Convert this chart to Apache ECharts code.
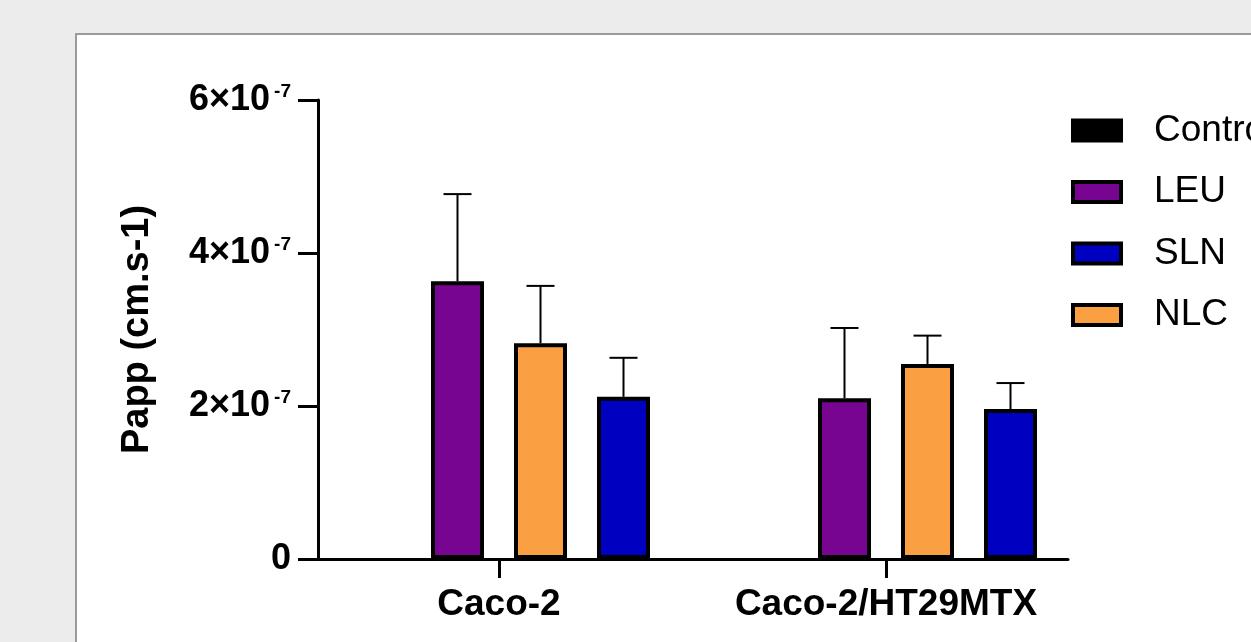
<!DOCTYPE html>
<html>
<head>
<meta charset="utf-8">
<script src="https://cdn.jsdelivr.net/npm/echarts@6/dist/echarts.min.js"></script>
<style>
  html, body { margin: 0; padding: 0; background: #ececec; }
  #panel { position: absolute; left: 75px; top: 33px; width: 1300px; height: 700px;
           background: #fff; border-top: 2px solid #9a9a9a; border-left: 2px solid #9a9a9a; }
  #chart { position: absolute; left: 0; top: 0; width: 1251px; height: 642px; }
</style>
</head>
<body>
<div id="panel"></div>
<div id="chart"></div>
<script>
const categories = ['Caco-2', 'Caco-2/HT29MTX'];
const legendOrder = ['Control', 'LEU', 'SLN', 'NLC'];

const controlMean = ['-', '-'];
const leuMean = [3.63e-7, 2.10e-7];
const leuSd = [1.14e-7, 0.92e-7];
const nlcMean = [2.82e-7, 2.55e-7];
const nlcSd = [0.75e-7, 0.37e-7];
const slnMean = [2.12e-7, 1.96e-7];
const slnSd = [0.51e-7, 0.34e-7];

const yTicks = [0, 2e-7, 4e-7, 6e-7];

const FONT = "'Liberation Sans', Arial, sans-serif";
const BAR_W = 53;
const GAP_PX = 30;
const slotOffset = (i) => (i - 1.5) * (BAR_W + GAP_PX);

const barSeries = (name, data, color) => ({
  name,
  type: 'bar',
  data,
  barWidth: BAR_W,
  barGap: (GAP_PX / BAR_W * 100).toFixed(1) + '%',
  itemStyle: { color, borderColor: '#000', borderWidth: 4 },
  z: 3,
});

const errorSeries = (name, mean, sd, slot) => ({
  name,
  type: 'custom',
  data: mean.map((m, i) => [i, m, sd[i]]),
  z: 2,
  renderItem: (params, api) => {
    const idx = api.value(0);
    const base = api.coord([idx, api.value(1)]);
    const top = api.coord([idx, api.value(1) + api.value(2)]);
    const cx = base[0] + slotOffset(slot);
    const style = { stroke: '#000', lineWidth: 2 };
    return {
      type: 'group',
      children: [
        { type: 'line', shape: { x1: cx, y1: base[1], x2: cx, y2: top[1] }, style },
        { type: 'line', shape: { x1: cx - 14, y1: top[1], x2: cx + 14, y2: top[1] }, style },
      ],
    };
  },
});

const yRange = {
  type: 'value',
  min: yTicks[0],
  max: yTicks[yTicks.length - 1],
  interval: yTicks[1] - yTicks[0],
};

const myChart = echarts.init(document.getElementById('chart'));
const option = {
  animation: false,
  textStyle: { fontFamily: FONT },
  // grid 0 holds the bars, grid 1 only draws the frame lines (axes are a bit shorter than the bands)
  grid: [
    { left: 305.5, right: 171.5, top: 100, bottom: 83 },
    { left: 318, right: 183, top: 100, bottom: 83 },
  ],
  legend: {
    data: legendOrder,
    orient: 'vertical',
    icon: 'rect',
    left: 1071,
    top: 110,
    padding: 0,
    itemWidth: 48,
    itemHeight: 20,
    itemGap: 20.5,
    itemStyle: { borderColor: '#000', borderWidth: 4 },
    textStyle: { fontSize: 37, color: '#000', fontFamily: FONT, lineHeight: 41, padding: [0, 0, 0, 28] },
  },
  xAxis: [
    {
      type: 'category',
      gridIndex: 0,
      data: categories,
      axisLine: { show: true, lineStyle: { color: 'rgba(0,0,0,0)', width: 0 } },
      axisTick: { show: true, alignWithLabel: true, length: 19, lineStyle: { color: '#000', width: 3 } },
      axisLabel: {
        interval: 0,
        hideOverlap: false,
        fontSize: 37,
        fontWeight: 'bold',
        color: '#000',
        margin: 27,
        fontFamily: FONT,
      },
    },
    {
      type: 'value',
      gridIndex: 1,
      min: 0,
      max: 1,
      axisLine: { show: true, lineStyle: { color: '#000', width: 3 } },
      axisTick: { show: false },
      axisLabel: { show: false },
      splitLine: { show: false },
    },
  ],
  yAxis: [
    Object.assign({ gridIndex: 0, show: false }, yRange),
    Object.assign({
      gridIndex: 1,
      name: 'Papp (cm.s-1)',
      nameLocation: 'middle',
      nameGap: 161,
      nameTextStyle: { fontSize: 38, fontWeight: 'bold', color: '#000', fontFamily: FONT },
      splitLine: { show: false },
      axisLine: { show: true, lineStyle: { color: '#000', width: 3 } },
      axisTick: { show: true, length: 20, lineStyle: { color: '#000', width: 3 } },
      axisLabel: {
        margin: 27,
        color: '#000',
        formatter: (v) => {
          if (v === 0) return '{b|0}';
          return '{b|' + Math.round(v / 1e-7) + '×10}{s|-7}';
        },
        rich: {
          b: { fontSize: 36, fontWeight: 'bold', color: '#000', fontFamily: FONT },
          s: { fontSize: 19, fontWeight: 'bold', color: '#000', fontFamily: FONT, padding: [0, 0, 16, 4] },
        },
      },
    }, yRange),
  ],
  series: [
    barSeries('Control', controlMean, '#000'),
    barSeries('LEU', leuMean, '#780591'),
    barSeries('NLC', nlcMean, '#fba042'),
    barSeries('SLN', slnMean, '#0000c0'),
    errorSeries('LEU', leuMean, leuSd, 1),
    errorSeries('NLC', nlcMean, nlcSd, 2),
    errorSeries('SLN', slnMean, slnSd, 3),
  ],
};
myChart.setOption(option);
window.addEventListener('resize', () => {
  myChart.resize();
});
</script>
</body>
</html>
